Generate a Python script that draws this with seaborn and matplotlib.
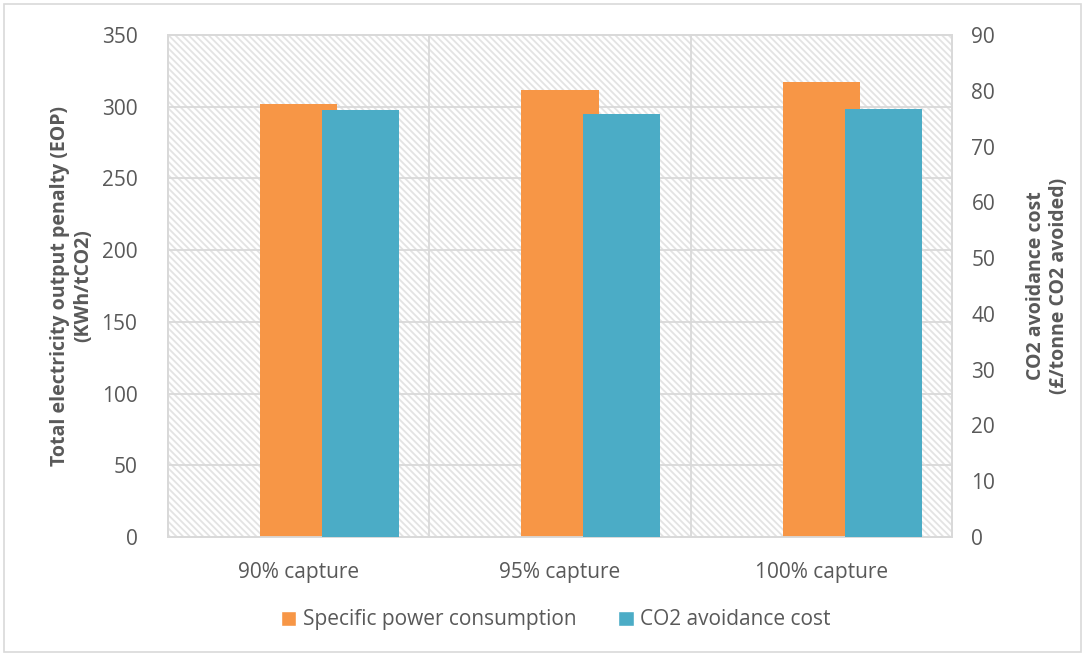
import numpy as np
import pandas as pd
import matplotlib
matplotlib.use("Agg")
import matplotlib.pyplot as plt
from matplotlib.patches import Rectangle, Patch
import seaborn as sns

# Data
categories = ["90% capture", "95% capture", "100% capture"]
eop_kwh = [302, 312, 317]          # left axis, KWh/tCO2
avoid_cost = [76.5, 75.8, 76.7]    # right axis, £/tonne CO2 avoided

orange = "#F79646"
blue = "#4BACC6"
grey_txt = "#595959"
grid_c = "#D9D9D9"

sns.set_theme(style="white")
plt.rcParams["font.family"] = ["Open Sans", "DejaVu Sans"]
plt.rcParams["hatch.linewidth"] = 1.3
plt.rcParams["hatch.color"] = "#E3E3E3"

df = pd.DataFrame({"category": categories, "eop": eop_kwh, "cost": avoid_cost})

fig = plt.figure(figsize=(10.85, 6.56), dpi=100)
ax = fig.add_axes([0.1548, 0.1814, 0.7226, 0.7652])

# hatched plot background
bg = Rectangle((0, 0), 1, 1, transform=ax.transAxes, facecolor="white",
               edgecolor="#E3E3E3", hatch="\\\\\\\\\\", linewidth=0, zorder=0)
ax.add_patch(bg)

bar_w = 0.295
sns.barplot(data=df, x="category", y="eop", color=orange, saturation=1,
            width=bar_w, ax=ax, zorder=3, linewidth=0)

ax2 = ax.twinx()
sns.barplot(data=df, x="category", y="cost", color=blue, saturation=1,
            width=bar_w, ax=ax2, zorder=3, linewidth=0)
for p in ax2.patches:
    p.set_x(p.get_x() + 0.237)

ax.set_xlim(-0.5, 2.5)
ax2.set_xlim(-0.5, 2.5)
ax.set_ylim(0, 350)
ax.set_yticks(np.arange(0, 351, 50))
ax2.set_ylim(0, 90)
ax2.set_yticks(np.arange(0, 91, 10))

# gridlines
for y in np.arange(50, 351, 50):
    ax.axhline(y, color=grid_c, lw=1.3, zorder=1)
for x in [0.5, 1.5]:
    ax.axvline(x, color=grid_c, lw=1.3, zorder=1)

for a in (ax, ax2):
    for s in a.spines.values():
        s.set_color(grid_c)
        s.set_linewidth(1.3)
    a.tick_params(length=0, labelsize=15, colors=grey_txt)
ax2.patch.set_visible(False)

ax.tick_params(axis="x", pad=18)
ax.tick_params(axis="y", pad=22)
ax2.tick_params(axis="y", pad=14)
ax.set_xlabel("")
ax.set_ylabel("Total electricity output penalty (EOP)\n(KWh/tCO2)",
              fontsize=14, fontweight="bold", color=grey_txt, labelpad=6)
ax2.set_ylabel("CO2 avoidance cost\n(£/tonne CO2 avoided)",
               fontsize=14, fontweight="bold", color=grey_txt, labelpad=22)

handles = [Patch(facecolor=orange, label="Specific power consumption"),
           Patch(facecolor=blue, label="CO2 avoidance cost")]
leg = fig.legend(handles=handles, loc="center", bbox_to_anchor=(0.512, 0.055),
                 ncol=2, frameon=False, fontsize=15, handlelength=0.75,
                 handleheight=0.75, handletextpad=0.3, columnspacing=2.0)
for t in leg.get_texts():
    t.set_color(grey_txt)

# outer chart frame
fig.patches.append(Rectangle((0.004, 0.006), 0.992, 0.988, transform=fig.transFigure,
                             fill=False, edgecolor=grid_c, lw=1.2))

fig.savefig("out.png", dpi=100)
